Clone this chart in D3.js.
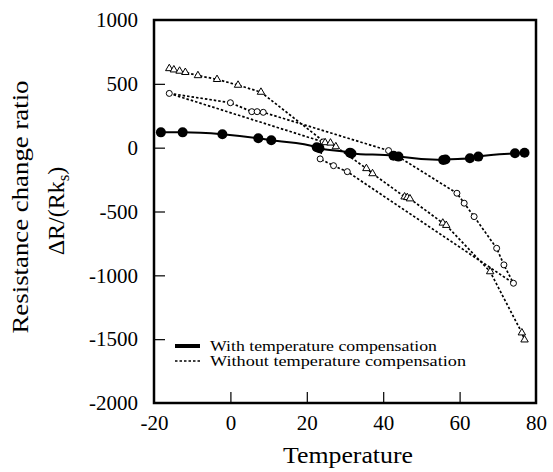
<!DOCTYPE html>
<html>
<head>
<meta charset="utf-8">
<script src="https://cdn.jsdelivr.net/npm/d3@7"></script>
<style>
  body { margin: 0; background: #fff; }
  text { font-family: "Liberation Serif", "Times New Roman", serif; fill: #000; }
</style>
</head>
<body>
<script>

  // with temperature compensation (solid, filled dots)
  var withTemp = [-18.2, -12.5, -2.1, 7.3, 10.7, 22.6, 23.3, 31.3, 31.7, 42.7, 44, 55.7, 56.3, 62.7, 64.9, 74.5, 77];
  var withVal  = [120, 120, 105, 74, 58, 3, -5, -39, -45, -63, -70, -96, -93, -83, -70, -44, -40];

  // without compensation, triangles
  var triTemp = [-16, -14.8, -13.3, -11.8, -8.5, -3.5, 2, 8, 24.8, 26.2, 27.6, 35.6, 37.2, 45.6, 46.3, 47, 55.6, 56.5, 68, 76.3, 77];
  var triVal  = [620, 610, 600, 590, 565, 535, 490, 435, 40, 37, 8, -163, -203, -385, -390, -400, -590, -608, -971, -1450, -1505];

  // without compensation, circles (upper branch)
  var upTemp = [-16, 0, 5.6, 7, 8.6, 41.4, 59.3, 61.2, 63.8, 69.7, 71.6, 74.1];
  var upVal  = [425, 352, 282, 282, 277, -23, -357, -435, -540, -788, -918, -1062];

  // without compensation, circles (lower branch)
  var lowTemp = [-16, 24.3, 23.5, 27, 30.6, 74.1];
  var lowVal  = [425, 45, -88, -141, -188, -1062];

  var xTicks = [-20, 0, 20, 40, 60, 80];
  var yTicks = [-2000, -1500, -1000, -500, 0, 500, 1000];

  var zip = function(a, b) { return a.map(function(d, i) { return [d, b[i]]; }); };

  var W = 553, H = 472;
  var pLeft = 154, pRight = 536, pTop = 20, pBottom = 403;

  var svg = d3.select("body").append("svg")
      .attr("width", W)
      .attr("height", H);

  var x = d3.scaleLinear().domain([-20, 80]).range([pLeft, pRight]);
  var y = d3.scaleLinear().domain([-2000, 1000]).range([pBottom, pTop]);

  var fmt = function(d) { return String(d); };

  // axes, ticks pointing inward
  var xAxis = svg.append("g")
    .attr("transform", "translate(0," + pBottom + ")")
    .call(d3.axisBottom(x).tickValues(xTicks).tickFormat(fmt).tickSizeInner(-11).tickSizeOuter(0).tickPadding(12));
  var yAxis = svg.append("g")
    .attr("transform", "translate(" + pLeft + ",0)")
    .call(d3.axisLeft(y).tickValues(yTicks).tickFormat(fmt).tickSizeInner(-11).tickSizeOuter(0).tickPadding(16));

  [xAxis, yAxis].forEach(function(g) {
    g.select(".domain").remove();
    g.selectAll("line").attr("stroke", "#000").attr("stroke-width", 1.2);
    g.selectAll("text").attr("font-size", 21).attr("font-family", "Liberation Serif");
  });
  // no tick lines at the frame ends
  xAxis.selectAll(".tick").filter(function(d) { return d === -20 || d === 80; }).select("line").remove();
  yAxis.selectAll(".tick").filter(function(d) { return d === -2000 || d === 1000; }).select("line").remove();

  svg.append("rect")
    .attr("x", pLeft).attr("y", pTop)
    .attr("width", pRight - pLeft).attr("height", pBottom - pTop)
    .attr("fill", "none").attr("stroke", "#000").attr("stroke-width", 2.5);

  var line = d3.line().x(function(d) { return x(d[0]); }).y(function(d) { return y(d[1]); });

  // dashed lines for the uncompensated series
  [zip(triTemp, triVal), zip(upTemp, upVal), zip(lowTemp, lowVal)].forEach(function(pts) {
    svg.append("path")
      .attr("d", line(pts))
      .attr("fill", "none")
      .attr("stroke", "#000")
      .attr("stroke-width", 1.7)
      .attr("stroke-dasharray", "2.5,2");
  });

  // solid line
  svg.append("path")
    .attr("d", line.curve(d3.curveMonotoneX)(zip(withTemp, withVal)))
    .attr("fill", "none")
    .attr("stroke", "#000")
    .attr("stroke-width", 2);

  // markers
  var circlePts = zip(upTemp, upVal).concat(zip(lowTemp, lowVal).slice(1, 5));
  svg.selectAll("circle.open")
    .data(circlePts)
    .enter().append("circle")
      .attr("class", "open")
      .attr("cx", function(d) { return x(d[0]); })
      .attr("cy", function(d) { return y(d[1]); })
      .attr("r", 3)
      .attr("fill", "#fff")
      .attr("stroke", "#000")
      .attr("stroke-width", 1);

  var tri = d3.symbol().type(d3.symbolTriangle).size(24);
  svg.selectAll("path.tri")
    .data(zip(triTemp, triVal))
    .enter().append("path")
      .attr("class", "tri")
      .attr("d", tri)
      .attr("transform", function(d) { return "translate(" + x(d[0]) + "," + y(d[1]) + ")"; })
      .attr("fill", "#fff")
      .attr("stroke", "#000")
      .attr("stroke-width", 1);

  svg.selectAll("circle.dot")
    .data(zip(withTemp, withVal))
    .enter().append("circle")
      .attr("class", "dot")
      .attr("cx", function(d) { return x(d[0]); })
      .attr("cy", function(d) { return y(d[1]); })
      .attr("r", 5)
      .attr("fill", "#000");

  // legend
  svg.append("line").attr("x1", 175).attr("x2", 200).attr("y1", 346).attr("y2", 346)
    .attr("stroke", "#000").attr("stroke-width", 4);
  svg.append("line").attr("x1", 175).attr("x2", 200).attr("y1", 361).attr("y2", 361)
    .attr("stroke", "#000").attr("stroke-width", 1.6).attr("stroke-dasharray", "2.5,2");
  svg.append("text").attr("x", 210).attr("y", 351).attr("font-size", 14)
    .attr("textLength", 227).attr("lengthAdjust", "spacingAndGlyphs")
    .text("With temperature compensation");
  svg.append("text").attr("x", 210).attr("y", 366).attr("font-size", 14)
    .attr("textLength", 256).attr("lengthAdjust", "spacingAndGlyphs")
    .text("Without temperature compensation");

  // axis titles
  svg.append("text")
    .attr("x", 348).attr("y", 463)
    .attr("text-anchor", "middle").attr("font-size", 23)
    .attr("textLength", 130).attr("lengthAdjust", "spacingAndGlyphs")
    .text("Temperature");

  svg.append("text")
    .attr("transform", "translate(28,207) rotate(-90)")
    .attr("text-anchor", "middle").attr("font-size", 23)
    .attr("textLength", 253).attr("lengthAdjust", "spacingAndGlyphs")
    .text("Resistance change ratio");

  var yl2 = svg.append("text")
    .attr("transform", "translate(64,211) rotate(-90)")
    .attr("text-anchor", "middle").attr("font-size", 24);
  yl2.append("tspan").text("ΔR/(Rk");
  yl2.append("tspan").attr("font-size", 17).attr("dy", 5).text("s");
  yl2.append("tspan").attr("dy", -5).text(")");

</script>
</body>
</html>
